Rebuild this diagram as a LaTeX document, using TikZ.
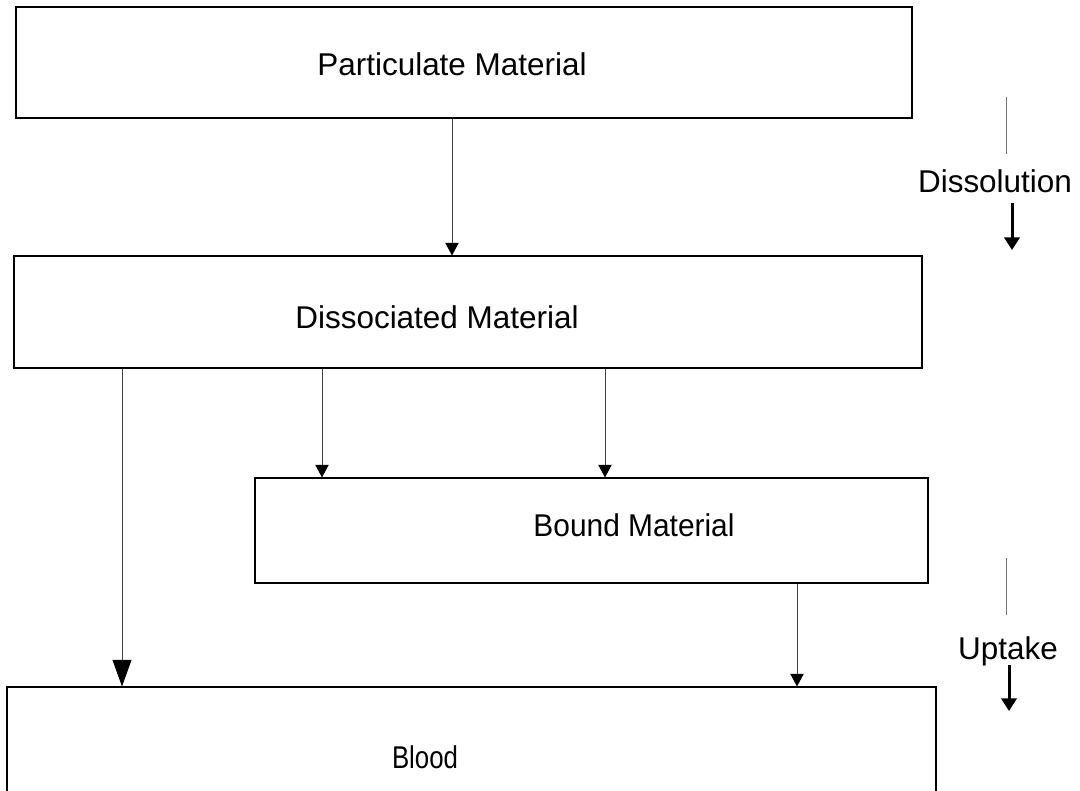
\documentclass[tikz,border=0pt]{standalone}
\usepackage{fontspec}
\setmainfont{Liberation Sans}
\usepackage{graphicx}
\usetikzlibrary{arrows.meta}

\begin{document}
\begin{tikzpicture}[x=0.75pt,y=-0.75pt,
    box/.style={draw,line width=0.8pt,inner sep=0pt},
    txt/.style={anchor=base,inner sep=0pt,font=\fontsize{23.6}{28}\selectfont},
    arr/.style={line width=0.75pt,black!75,-{Triangle[width=10pt,length=9.5pt,color=black]}},
    bigarr/.style={line width=0.75pt,black!75,-{Triangle[width=14.25pt,length=20pt,color=black]}},
    fat/.style={line width=2.25pt,-{Triangle[width=11.5pt,length=9.5pt]}},
    tick/.style={line width=0.75pt,black!55}]
    \useasboundingbox (0,0) rectangle (1080,790);
    \clip (0,0) rectangle (1080,790);

    % the four boxes
    \node[box,minimum width=672pt,minimum height=83.25pt] (part) at (464,62.5) {};
    \node[box,minimum width=681pt,minimum height=84pt] (diss) at (468,312) {};
    \node[box,minimum width=504.75pt,minimum height=78.75pt] (bound) at (591.5,530.5) {};
    \node[box,minimum width=696.75pt,minimum height=99.75pt] (blood) at (471.5,753.5) {};

    \node[txt] (partlbl) at (452,75) {Particulate Material};
    \node[txt] (disslbl) at (437,328) {Dissociated Material};
    \node[txt] (boundlbl) at (634,536) {\scalebox{0.95}[1]{Bound Material}};
    \node[txt] (bloodlbl) at (425,768) {\scalebox{0.82}[1]{Blood}};

    % flows
    \draw[arr] (part.south -| 452,0) -- (diss.north -| 452,0);
    \draw[arr] (diss.south -| 322,0) -- (bound.north -| 322,0);
    \draw[arr] (diss.south -| 605,0) -- (bound.north -| 605,0);
    \draw[bigarr] (diss.south -| 122,0) -- (blood.north -| 122,0);
    \draw[arr] (bound.south -| 797,0) -- (blood.north -| 797,0);

    % side markers
    \node[txt] (dissol) at (995,192) {Dissolution};
    \draw[tick] (1006,97) -- (1006,154);
    \draw[fat] (1012,203) -- (1012,250);

    \node[txt] (uptk) at (1008,659) {Uptake};
    \draw[tick] (1006,558) -- (1006,615);
    \draw[fat] (1009,665) -- (1009,711);
\end{tikzpicture}
\end{document}
